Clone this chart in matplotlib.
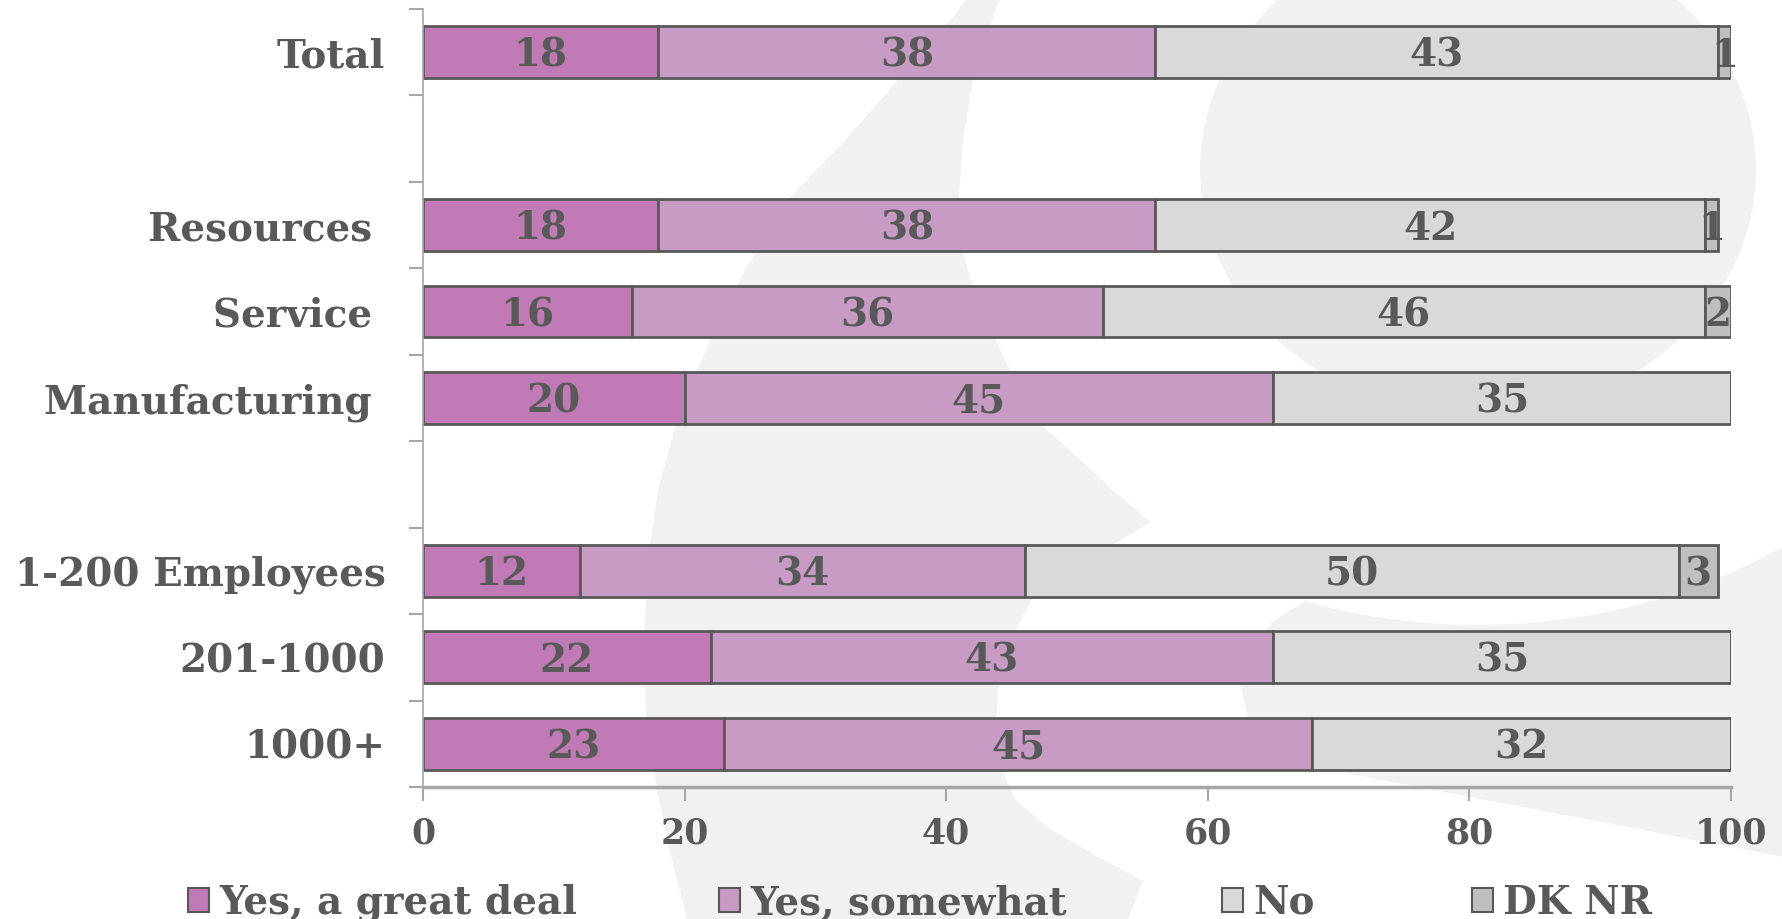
import numpy as np
import matplotlib
matplotlib.use("Agg")
import matplotlib.pyplot as plt
from matplotlib.patches import Ellipse, Polygon, Rectangle

# Share of firms answering, in percent
categories = ["Total", "Resources ", "Service ", "Manufacturing ",
              "1-200 Employees", "201-1000", "1000+"]
slots = [0, 2, 3, 4, 6, 7, 8]  # empty rows separate the groups
great_deal = [18, 18, 16, 20, 12, 22, 23]
somewhat = [38, 38, 36, 45, 34, 43, 45]
no = [43, 42, 46, 35, 50, 35, 32]
dk_nr = [1, 1, 2, 0, 3, 0, 0]

series_names = ["Yes, a great deal", "Yes, somewhat", "No", "DK NR"]
colors = ["#C07AB5", "#C89BC5", "#D9D9D9", "#BFBFBF"]
x_ticks = [0, 20, 40, 60, 80, 100]

text_col = "#595959"
edge_col = "#595959"
axis_col = "#A6A6A6"

plt.rcParams["font.family"] = "DejaVu Serif"
plt.rcParams["font.weight"] = "bold"

W, H = 1783, 919
fig = plt.figure(figsize=(W / 100, H / 100), dpi=100)

# light logo in the background, drawn in pixel units
bg = fig.add_axes([0, 0, 1, 1], zorder=0)
bg.set_xlim(0, W)
bg.set_ylim(H, 0)
bg.axis("off")
shade = "#F1F1F1"

bg.add_patch(Ellipse((1478, 170), 556, 490, color=shade, lw=0))

swoosh = [(985, -20), (966, 0), (935, 40), (898, 80), (850, 135), (790, 198),
          (745, 270), (705, 352), (676, 425), (658, 490), (648, 560), (644, 640),
          (646, 720), (657, 790), (672, 860), (690, 930),
          (1125, 930), (1128, 919), (1143, 881), (1098, 857), (1050, 829),
          (1015, 800), (1002, 770), (996, 730), (998, 690), (1010, 640),
          (1037, 590), (1112, 545), (1151, 522), (1110, 488), (1075, 455),
          (1041, 425), (1020, 390), (1000, 350), (975, 293), (962, 250),
          (959, 198), (963, 140), (973, 80), (999, 0), (1006, -20)]
bg.add_patch(Polygon(swoosh, closed=True, color=shade, lw=0))

# shoulder band below the head, its top follows a wide ring
ring_x = np.linspace(1305, 1800, 40)
ring_y = 170 + 455 * np.sqrt(1 - ((ring_x - 1478) / 544) ** 2)
band = list(zip(ring_x, ring_y)) + [(1800, 860), (1340, 772), (1300, 766),
                                     (1268, 752), (1250, 728), (1242, 690),
                                     (1250, 652), (1272, 622)]
bg.add_patch(Polygon(band, closed=True, color=shade, lw=0))

ax = fig.add_axes([423 / W, 1 - 787 / H, (1731 - 423) / W, (787 - 9) / H], zorder=1)
ax.patch.set_alpha(0)

left = np.zeros(len(slots))
for vals, name, col in zip([great_deal, somewhat, no, dk_nr], series_names, colors):
    vals = np.array(vals)
    bars = ax.barh(slots, vals, left=left, height=0.6, color=col,
                   edgecolor=edge_col, linewidth=2)
    labels = ax.bar_label(bars, labels=[str(v) if v else "" for v in vals],
                          label_type="center", fontsize=28, color=text_col)
    for lab in labels:
        lab.xyann = (0, -2.5)  # sit the numbers a touch lower in the bar
    left += vals

ax.set_xlim(0, 100)
ax.set_ylim(8.5, -0.5)
ax.set_xticks(x_ticks)
ax.set_xticklabels([str(t) for t in x_ticks], fontsize=25, color=text_col)
ax.set_yticks(np.arange(-0.5, 9.0, 1))
ax.set_yticklabels([])
ax.set_yticks(slots, minor=True)
ax.set_yticklabels(categories, minor=True, fontsize=28, color=text_col)
ax.tick_params(axis="y", which="major", length=10, width=1.5, color=axis_col)
ax.tick_params(axis="y", which="minor", length=0, pad=27)
ax.tick_params(axis="x", length=10, width=1.5, color=axis_col, pad=11)

for side in ["top", "right"]:
    ax.spines[side].set_visible(False)
ax.spines["left"].set_color(axis_col)
ax.spines["left"].set_linewidth(1.2)
ax.spines["bottom"].set_color(axis_col)
ax.spines["bottom"].set_linewidth(2.5)

# legend laid out by hand along the bottom edge
legend_x = [188, 719, 1222, 1472]
for x, name, col in zip(legend_x, series_names, colors):
    bg.add_patch(Rectangle((x, 888), 21, 24, facecolor=col, edgecolor=edge_col, lw=1.5))
    bg.text(x + 31, 914, name, va="baseline", ha="left", fontsize=28, color=text_col)

fig.savefig("out.png", dpi=100)
